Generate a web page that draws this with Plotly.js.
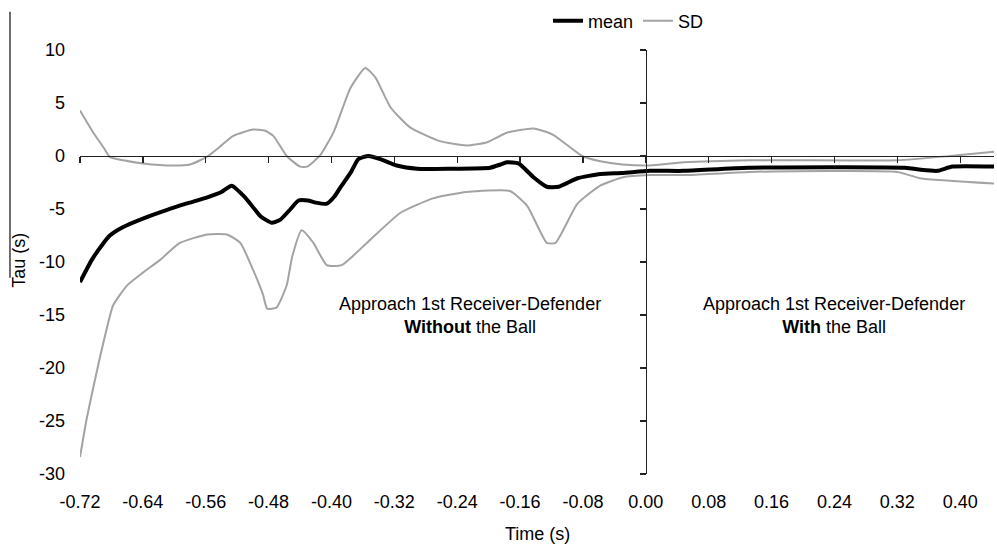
<!DOCTYPE html>
<html>
<head>
<meta charset="utf-8">
<script src="https://cdn.plot.ly/plotly-3.0.1.min.js"></script>
<style>html,body{margin:0;padding:0;background:#fff;}#chart{width:997px;height:546px;}</style>
</head>
<body>
<div id="chart"></div>
<script>
// Mean tau
const meanX = [-0.72,-0.705,-0.69,-0.682,-0.665,-0.64,-0.61,-0.585,-0.558,-0.54,-0.527,-0.51,-0.49,-0.476,-0.465,-0.452,-0.442,-0.43,-0.42,-0.406,-0.396,-0.389,-0.375,-0.366,-0.353,-0.338,-0.317,-0.291,-0.25,-0.198,-0.185,-0.177,-0.162,-0.143,-0.126,-0.111,-0.087,-0.058,-0.03,0.005,0.048,0.13,0.33,0.35,0.371,0.39,0.443];
const meanY = [-11.9,-9.8,-8.2,-7.5,-6.7,-5.9,-5.1,-4.5,-3.9,-3.4,-2.8,-3.9,-5.7,-6.3,-6.0,-5.0,-4.2,-4.2,-4.4,-4.5,-3.8,-3.0,-1.5,-0.3,0.0,-0.3,-0.9,-1.2,-1.2,-1.1,-0.8,-0.6,-0.7,-2.0,-2.9,-2.9,-2.1,-1.7,-1.6,-1.4,-1.4,-1.1,-1.1,-1.3,-1.4,-1.0,-1.0];
// Upper SD band
const sdUpX = [-0.72,-0.703,-0.69,-0.682,-0.665,-0.64,-0.601,-0.58,-0.567,-0.557,-0.54,-0.525,-0.5,-0.485,-0.474,-0.457,-0.44,-0.431,-0.414,-0.397,-0.376,-0.357,-0.344,-0.325,-0.3,-0.262,-0.228,-0.202,-0.177,-0.143,-0.118,-0.081,-0.058,-0.03,0.005,0.048,0.133,0.32,0.387,0.443];
const sdUpY = [4.3,2.2,0.8,-0.1,-0.4,-0.7,-0.9,-0.8,-0.4,0.0,1.0,1.9,2.5,2.4,1.9,0.0,-1.0,-1.0,0.1,2.3,6.4,8.3,7.4,4.6,2.7,1.4,1.0,1.3,2.2,2.6,2.0,0.0,-0.5,-0.8,-0.9,-0.6,-0.4,-0.4,0.0,0.4];
// Lower SD band
const sdLoX = [-0.72,-0.711,-0.695,-0.686,-0.678,-0.66,-0.64,-0.618,-0.593,-0.558,-0.533,-0.516,-0.5,-0.487,-0.482,-0.47,-0.457,-0.45,-0.438,-0.423,-0.406,-0.387,-0.355,-0.313,-0.271,-0.228,-0.173,-0.151,-0.126,-0.115,-0.087,-0.058,-0.029,0.005,0.052,0.133,0.32,0.349,0.443];
const sdLoY = [-28.4,-24.6,-19.1,-16.3,-14.1,-12.2,-11.0,-9.8,-8.2,-7.4,-7.4,-8.2,-10.7,-13.1,-14.4,-14.3,-12.2,-9.5,-7.0,-8.2,-10.3,-10.3,-8.2,-5.4,-4.0,-3.4,-3.3,-4.7,-8.2,-8.2,-4.5,-2.8,-2.0,-1.8,-1.8,-1.5,-1.5,-2.1,-2.6];

const xTickVals = [-0.72,-0.64,-0.56,-0.48,-0.40,-0.32,-0.24,-0.16,-0.08,0.00,0.08,0.16,0.24,0.32,0.40];
const xTickText = ["-0.72","-0.64","-0.56","-0.48","-0.40","-0.32","-0.24","-0.16","-0.08","0.00","0.08","0.16","0.24","0.32","0.40"];
const yTickVals = [10,5,0,-5,-10,-15,-20,-25,-30];
const yTickText = ["10","5","0","-5","-10","-15","-20","-25","-30"];

const xRange = [-0.72, 0.443];
const yRange = [-30, 10];
const FONT = 'Arial, "Liberation Sans", sans-serif';
const GRAY = '#a3a3a3';
const TXT = '#000';

const traces = [
  {x: sdUpX, y: sdUpY, type: 'scatter', mode: 'lines', name: 'SD', legendrank: 2,
   line: {color: GRAY, width: 2, shape: 'spline', smoothing: 0.5}},
  {x: sdLoX, y: sdLoY, type: 'scatter', mode: 'lines', name: 'SD', showlegend: false,
   line: {color: GRAY, width: 2, shape: 'spline', smoothing: 0.5}},
  {x: meanX, y: meanY, type: 'scatter', mode: 'lines', name: 'mean', legendrank: 1,
   line: {color: '#000', width: 4, shape: 'spline', smoothing: 0.5}},
  // empty trace so the crossing axes (x2/y2) get drawn
  {x: [], y: [], type: 'scatter', mode: 'lines', xaxis: 'x2', yaxis: 'y2', showlegend: false, hoverinfo: 'skip'}
];

const yAxisX = (0 - xRange[0]) / (xRange[1] - xRange[0]);
const xAxisY = (0 - yRange[0]) / (yRange[1] - yRange[0]);

const layout = {
  width: 997, height: 546,
  margin: {l: 80, r: 3, t: 44, b: 72},
  paper_bgcolor: '#fff', plot_bgcolor: '#fff',
  font: {family: FONT, size: 18, color: TXT},
  showlegend: true,
  legend: {orientation: 'h', x: 0.512, xanchor: 'left', y: 1.068, yanchor: 'middle',
           font: {family: FONT, size: 18, color: TXT}, bgcolor: 'rgba(0,0,0,0)',
           traceorder: 'normal', itemwidth: 30},
  xaxis: {range: xRange, tickvals: xTickVals, ticktext: xTickText, showgrid: false, zeroline: false,
          showline: false, ticks: '', ticklabelstandoff: 15, fixedrange: true},
  yaxis: {range: yRange, tickvals: yTickVals, ticktext: yTickText, showgrid: false, zeroline: false,
          showline: false, ticks: '', ticklabelstandoff: 14, fixedrange: true},
  xaxis2: {overlaying: 'x', anchor: 'free', position: xAxisY, range: xRange, tickvals: xTickVals,
           showticklabels: false, ticks: 'outside', ticklen: 6, tickcolor: '#222', tickwidth: 1.3,
           showline: true, linecolor: '#222', linewidth: 1.3, showgrid: false, zeroline: false, fixedrange: true},
  yaxis2: {overlaying: 'y', anchor: 'free', position: yAxisX, range: yRange, tickvals: yTickVals,
           showticklabels: false, ticks: 'outside', ticklen: 6, tickcolor: '#222', tickwidth: 1.3,
           showline: true, linecolor: '#222', linewidth: 1.3, showgrid: false, zeroline: false, fixedrange: true},
  shapes: [
    {type: 'line', xref: 'paper', yref: 'paper', x0: -0.0766, x1: -0.0766, y0: 0.463, y1: 1.09,
     line: {color: '#222', width: 1.3}}
  ],
  annotations: [
    {text: 'Approach 1st Receiver-Defender<br><b>Without</b> the Ball', xref: 'x', yref: 'y',
     x: -0.224, y: -15.0, showarrow: false, align: 'center', font: {family: FONT, size: 18, color: TXT}},
    {text: 'Approach 1st Receiver-Defender<br><b>With</b> the Ball', xref: 'x', yref: 'y',
     x: 0.24, y: -15.0, showarrow: false, align: 'center', font: {family: FONT, size: 18, color: TXT}},
    {text: 'Time (s)', xref: 'paper', yref: 'paper', x: 0.5, y: -0.142, yanchor: 'middle',
     showarrow: false, font: {family: FONT, size: 18, color: TXT}},
    {text: 'Tau (s)', xref: 'paper', yref: 'paper', x: -0.080, y: 0.505, textangle: -90,
     showarrow: false, font: {family: FONT, size: 18, color: TXT}}
  ]
};

Plotly.newPlot('chart', traces, layout, {staticPlot: true, displayModeBar: false});
</script>
</body>
</html>
